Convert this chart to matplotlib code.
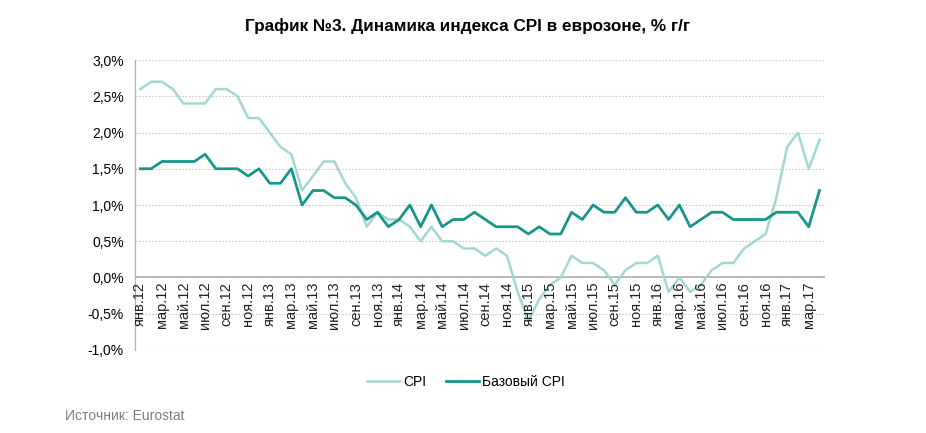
import matplotlib.pyplot as plt
import numpy as np

plt.rcParams['font.family'] = ['Liberation Sans', 'DejaVu Sans']

months = ['янв', 'фев', 'мар', 'апр', 'май', 'июн',
          'июл', 'авг', 'сен', 'окт', 'ноя', 'дек']
years = ['12', '13', '14', '15', '16', '17']
periods = [m + '.' + y for y in years for m in months][:64]

cpi = [2.6, 2.7, 2.7, 2.6, 2.4, 2.4, 2.4, 2.6, 2.6, 2.5, 2.2, 2.2,
       2.0, 1.8, 1.7, 1.2, 1.4, 1.6, 1.6, 1.3, 1.1, 0.7, 0.9, 0.8,
       0.8, 0.7, 0.5, 0.7, 0.5, 0.5, 0.4, 0.4, 0.3, 0.4, 0.3, -0.2,
       -0.6, -0.3, -0.1, 0.0, 0.3, 0.2, 0.2, 0.1, -0.1, 0.1, 0.2, 0.2,
       0.3, -0.2, 0.0, -0.2, -0.1, 0.1, 0.2, 0.2, 0.4, 0.5, 0.6, 1.1,
       1.8, 2.0, 1.5, 1.9]
core = [1.5, 1.5, 1.6, 1.6, 1.6, 1.6, 1.7, 1.5, 1.5, 1.5, 1.4, 1.5,
        1.3, 1.3, 1.5, 1.0, 1.2, 1.2, 1.1, 1.1, 1.0, 0.8, 0.9, 0.7,
        0.8, 1.0, 0.7, 1.0, 0.7, 0.8, 0.8, 0.9, 0.8, 0.7, 0.7, 0.7,
        0.6, 0.7, 0.6, 0.6, 0.9, 0.8, 1.0, 0.9, 0.9, 1.1, 0.9, 0.9,
        1.0, 0.8, 1.0, 0.7, 0.8, 0.9, 0.9, 0.8, 0.8, 0.8, 0.8, 0.9,
        0.9, 0.9, 0.7, 1.2]
yticks = [-1.0, -0.5, 0.0, 0.5, 1.0, 1.5, 2.0, 2.5, 3.0]

x = np.arange(len(periods))

fig = plt.figure(figsize=(9.26, 4.33), dpi=100)
ax = fig.add_axes([0.1458, 0.1917, 0.745, 0.6697])

ax.plot(x, cpi, color='#a3d9cc', lw=1.8, label='CPI', zorder=3)
ax.plot(x, core, color='#17978b', lw=2.0, label='Базовый CPI', zorder=4)

ax.set_xlim(-0.5, len(periods) - 0.5)
ax.set_ylim(-1.0, 3.0)
ax.set_yticks(yticks)
ax.set_yticklabels([('%.1f' % v).replace('.', ',') + '%' for v in yticks],
                   fontsize=10)
ax.tick_params(axis='y', length=0, pad=8)
ax.set_xticks([])
ax.yaxis.grid(True, linestyle=(0, (1.5, 1.5)), color='#c8c8c8', lw=0.8)
ax.set_axisbelow(True)

for s in ['top', 'right', 'bottom']:
    ax.spines[s].set_visible(False)
ax.spines['left'].set_color('#b0b0b0')
ax.spines['left'].set_linewidth(0.9)
ax.axhline(0, color='#b0b0b0', lw=1.2, zorder=2)

# labels hang below the zero line
for i in range(0, len(periods), 2):
    ax.text(x[i], -0.06, periods[i], rotation=90, ha='center', va='top',
            fontsize=10.5, color='#222222')

fig.text(0.505, 0.94, 'График №3. Динамика индекса CPI в еврозоне, % г/г',
         ha='center', va='center', fontsize=12.3, fontweight='bold')

fig.legend(loc='center', bbox_to_anchor=(0.503, 0.117), ncol=2, frameon=False,
           fontsize=10, handlelength=2.4, columnspacing=1.4, handletextpad=0.2)

fig.text(0.07, 0.04, 'Источник: Eurostat', fontsize=10, color='#7f7f7f',
         ha='left', va='center')

fig.savefig('out.png', dpi=100)
